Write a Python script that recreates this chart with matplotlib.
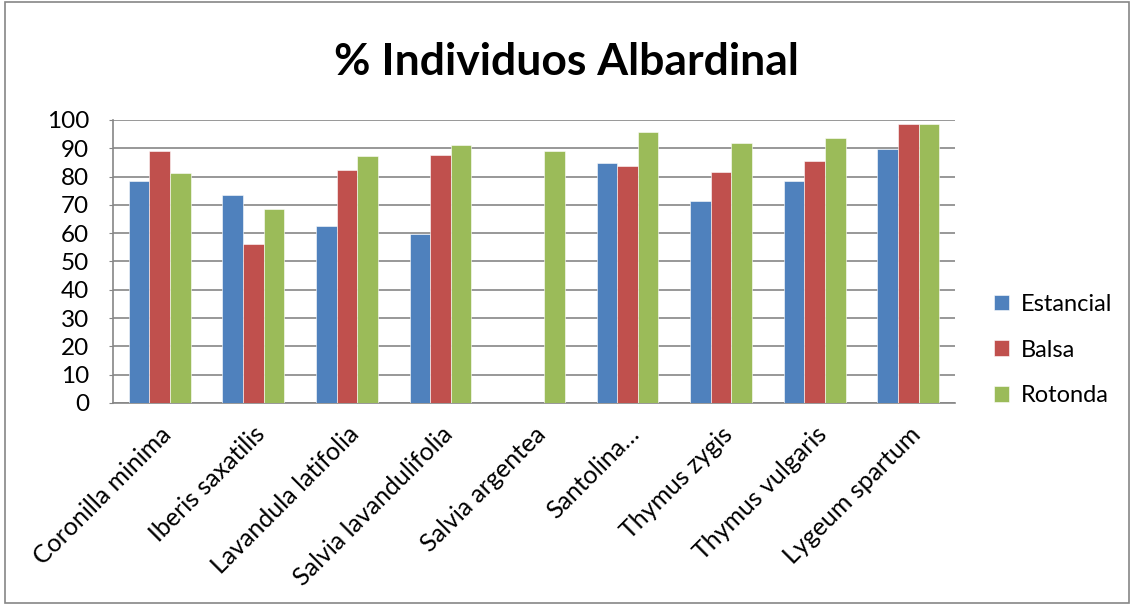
import matplotlib.pyplot as plt
import numpy as np
from matplotlib.patches import Rectangle

categories = ["Coronilla minima", "Iberis saxatilis", "Lavandula latifolia",
              "Salvia lavandulifolia", "Salvia argentea", "Santolina\u2026",
              "Thymus zygis", "Thymus vulgaris", "Lygeum spartum"]
estancial = [78.5, 73.6, 62.6, 59.6, 0, 84.7, 71.4, 78.4, 89.8]
balsa = [89.0, 56.2, 82.2, 87.6, 0, 83.8, 81.5, 85.6, 98.7]
rotonda = [81.2, 68.7, 87.4, 91.1, 89.0, 95.8, 91.9, 93.5, 98.5]

series = [("Estancial", estancial, "#4f81bd"),
          ("Balsa", balsa, "#c0504d"),
          ("Rotonda", rotonda, "#9bbb59")]

plt.rcParams['font.family'] = ['Lato', 'DejaVu Sans']

fig = plt.figure(figsize=(11.32, 6.05), dpi=100)
ax = fig.add_axes([0.0998, 0.3339, 0.7439, 0.4678])

x = np.arange(len(categories))
w = 0.22
for i, (name, vals, col) in enumerate(series):
    ax.bar(x + (i - 1) * w, vals, w, color=col, label=name, zorder=3,
           edgecolor='white', linewidth=0.4)

ax.set_xlim(-0.5, len(categories) - 0.5)
ax.set_ylim(0, 100)
ax.set_yticks(range(0, 101, 10))
ax.tick_params(axis='y', labelsize=17.5, length=3, color='#868686', direction='out', pad=14)
ax.set_xticks(x)
ax.set_xticklabels(categories, rotation=45, ha='right', va='top',
                   rotation_mode='anchor', fontsize=18)
ax.tick_params(axis='x', length=0, pad=14)
ax.grid(axis='y', color='#868686', linewidth=1.2, zorder=0)
for s in ['top', 'right']:
    ax.spines[s].set_visible(False)
for s in ['left', 'bottom']:
    ax.spines[s].set_color('#868686')
    ax.spines[s].set_linewidth(1.2)

fig.suptitle("% Individuos Albardinal", fontsize=32, fontweight='bold', y=0.93)

ax.legend(loc='center left', bbox_to_anchor=(1.021, 0.187), frameon=False,
          fontsize=17, handlelength=0.65, handleheight=0.65, labelspacing=1.05,
          handletextpad=0.5)

fig.patches.append(Rectangle((0.004, 0.003), 0.993, 0.994, transform=fig.transFigure,
                             fill=False, edgecolor='#868686', linewidth=1.2))

fig.savefig("out.png", dpi=100)
